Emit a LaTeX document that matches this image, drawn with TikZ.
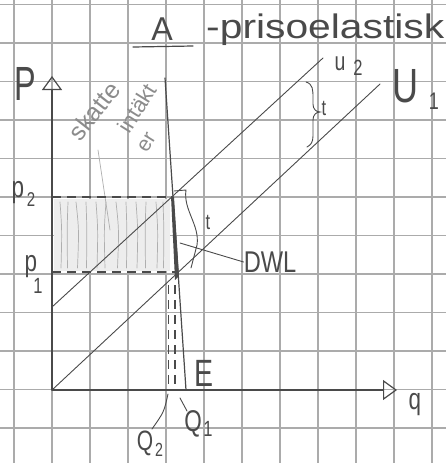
\documentclass[tikz,border=0pt]{standalone}
\usepackage{fontspec}
\setmainfont{Liberation Sans}
\usetikzlibrary{arrows.meta}
\definecolor{pencil}{HTML}{4A4A4A}
\definecolor{gridc}{HTML}{ABABAB}
\definecolor{faint}{HTML}{8C8C8C}
\definecolor{shadec}{HTML}{EDEDED}
\newcommand{\fs}[1]{\fontsize{#1}{#1}\selectfont}
\begin{document}
\begin{tikzpicture}[x=1pt,y=-1pt,
  pen/.style={draw=pencil, line width=1.2pt, line cap=round, line join=round},
  thinpen/.style={draw=pencil, line width=0.9pt, line cap=round},
  dashpen/.style={draw=pencil, line width=1.1pt, dash pattern=on 9pt off 6pt},
  faintpen/.style={draw=faint!70, line width=0.7pt, line cap=round},
  hand/.style={text=pencil, inner sep=0pt, xscale=0.75},
  soft/.style={text=faint, inner sep=0pt},
  axisarrow/.style={-{Triangle[open, length=14pt, width=20pt, line width=1.2pt]}}]
\useasboundingbox (0,0) rectangle (446,463);
\fill[white] (0,0) rectangle (446,463);
% grid paper
\foreach \i in {0,...,11} \draw[gridc, line width=1.3pt] ({14+38*\i},0) -- ({14+38*\i},463);
\foreach \j in {0,...,11} \draw[gridc, line width=1.3pt] (0,{4.5+38.5*\j}) -- (446,{4.5+38.5*\j});
% named points
\coordinate (O) at (52,390);
\coordinate (Ptop) at (52,76);
\coordinate (qend) at (397,390);
\coordinate (U1b) at (380,84);
\coordinate (U2a) at (52,307);
\coordinate (U2b) at (323,58);
\coordinate (Da) at (165,78);
\coordinate (Db) at (186,390);
\coordinate (p2L) at (52,197);
\coordinate (p1L) at (52,272);
\coordinate (E2) at (172,197);
\coordinate (E1) at (177,272);
\coordinate (Q2top) at (168.5,285);
\coordinate (Q2bot) at (168.5,390);
\coordinate (Q1top) at (175,285);
\coordinate (Q1bot) at (175,390);
% shaded tax revenue area
\fill[shadec] (54,199) rectangle (170,271);
\foreach \x/\d in {60/2,68/-1,76/3,86/1,96/2,106/-2,116/3,126/1,136/2,146/-1,156/2,163/1}
  \draw[faintpen] (\x,202) .. controls ({\x+\d},230) .. ({\x+0.5*\d},268);
\draw[faintpen] (98,150) -- (110,230);
% axes
\draw[pen, axisarrow] (O) -- (Ptop);
\draw[pen, axisarrow] (O) -- (qend);
% supply lines
\draw[thinpen] (O) -- (U1b);
\draw[thinpen] (U2a) -- (U2b);
% demand
\draw[pen] (Da) -- (Db);
% price dashes
\draw[dashpen] (p2L) -- (E2);
\draw[dashpen] (p1L) -- (E1);
% quantity dashes
\draw[dashpen] (Q2top) -- (Q2bot);
\draw[dashpen] (Q1top) -- (Q1bot);
% DWL sliver
\fill[pencil] (171,196) -- (174,197) -- (179,276) -- (175,280) -- cycle;
% brace t between supply lines (top right)
\draw[thinpen] (306,82) .. controls (313,84) and (313,90) .. (313,98)
  -- (313,104) .. controls (313,109) and (316,112) .. (320,112)
  .. controls (316,112) and (313,115) .. (313,120) -- (313,136)
  .. controls (313,142) and (311,145) .. (307,147);
\node[hand, font=\fs{22}] (t1) at (324,108) {t};
% bracket t at equilibrium
\draw[thinpen] (174,191) -- (186,190) .. controls (183,210) and (200,225) .. (197,245) -- (191,268);
\node[hand, font=\fs{22}] (t2) at (208,222) {t};
% labels
\node[hand, font=\fs{33}, xscale=1.3] (A) at (162,29) {A};
\draw[pen] (133,47) -- (193,46);
\node[text=pencil, inner sep=0pt, font=\fs{34}, xscale=1.2, anchor=west] (title) at (206,30) {-prisoelastisk};
\node[hand, font=\fs{48}, xscale=0.9] (P) at (25,84) {P};
\node[hand, font=\fs{48}] (U1) at (405,86) {U};
\node[hand, font=\fs{24}] (U1s) at (434,101) {1};
\node[hand, font=\fs{26}] (u2) at (340,64) {u};
\node[hand, font=\fs{22}] (u2s) at (358,68) {2};
\node[hand, font=\fs{38}] (E) at (204,373) {E};
\node[hand, font=\fs{30}, xscale=1.05] (DWL) at (270,262) {DWL};
\node[hand, font=\fs{30}] (q) at (415,405) {q};
\node[hand, font=\fs{30}] (p2) at (18,193) {p};
\node[hand, font=\fs{20}] (p2s) at (31,200) {2};
\node[hand, font=\fs{30}] (p1) at (31,267) {p};
\node[hand, font=\fs{22}] (p1s) at (38,286) {1};
\node[hand, font=\fs{30}] (Q1) at (193,424) {Q};
\node[hand, font=\fs{22}] (Q1s) at (208,429) {1};
\node[hand, font=\fs{28}] (Q2) at (145,443) {Q};
\node[hand, font=\fs{19}] (Q2s) at (159,450) {2};
% leaders
\draw[thinpen] (180,243) -- (DWL.west);
\draw[thinpen] (168,394) .. controls (164,412) .. (152,429);
\draw[thinpen] (180,398) -- (187,411);
% tax revenue text
\node[soft, font=\fs{25}, rotate=52] (sk) at (94,111) {skatte};
\node[soft, font=\fs{22}, rotate=58] (in) at (137,108) {intäkt};
\node[soft, font=\fs{21}, rotate=58] (er) at (147,143) {er};
\end{tikzpicture}
\end{document}
